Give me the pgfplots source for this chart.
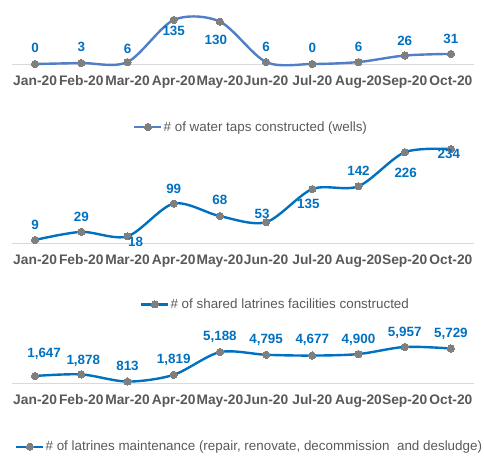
\documentclass[border=0pt]{standalone}
\usepackage{fontspec}
\setmainfont{Liberation Sans}
\usepackage{pgfplots}
\pgfplotsset{compat=1.18}
\usepackage{pgfplotstable}

\definecolor{lineA}{HTML}{4F7FC6}
\definecolor{lineB}{HTML}{0070C0}
\definecolor{labblue}{HTML}{0070C0}
\definecolor{markgray}{HTML}{7F7F7F}
\definecolor{tickgray}{HTML}{595959}
\definecolor{axisgray}{HTML}{D9D9D9}

% x = month index, lab = data label, dx/dy = label offset from the point (pt)
\pgfplotstableread{
x y lab dx dy
0 0 0 0 16
1 3 3 0 16.7
2 6 6 0 13.3
3 135 135 0 -11
4 130 130 -4 -18
5 6 6 0 15.7
6 0 0 0 16
7 6 6 0 15.7
8 26 26 0 15.3
9 31 31 0 15
}\taps

\pgfplotstableread{
x y lab dx dy
0 9 9 0 15
1 29 29 0 15
2 18 18 8 -5
3 99 99 0 15
4 68 68 0 16.7
5 53 53 -4 8.7
6 135 135 -4 -14.7
7 142 142 0 16
8 226 226 1 -20
9 234 234 -2 -5
}\latrines

\pgfplotstableread{
x y lab dx dy
0 1647 1,647 9 23.7
1 1878 1,878 2 15
2 813 813 0 16
3 1819 1,819 0 15.7
4 5188 5,188 0 16.3
5 4795 4,795 0 15.7
6 4677 4,677 0 16.7
7 4900 4,900 0 15
8 5957 5,957 0 15.3
9 5729 5,729 0 16
}\maint

\pgfplotsset{
  monthchart/.style={
    scale only axis,
    width=462pt,
    xmin=-0.5, xmax=9.5,
    axis y line=none,
    axis x line*=bottom,
    x axis line style={-, draw=axisgray, line width=0.8pt},
    xtick={0,...,9},
    xticklabels={Jan-20,Feb-20,Mar-20,Apr-20,May-20,Jun-20,Jul-20,Aug-20,Sep-20,Oct-20},
    major tick length=0pt,
    tick style={draw=none},
    xticklabel style={anchor=base, yshift=-21pt, text=tickgray,
      font=\fontsize{13.8}{16}\selectfont\bfseries},
    clip=false,
    legend style={draw=none, fill=none, inner sep=0pt, anchor=west,
      font=\fontsize{13.4}{16}\selectfont, text=tickgray,
      nodes={inner sep=1pt}},
    legend image code/.code={
      \draw[mark repeat=2, mark phase=2, #1]
        plot coordinates {(0pt,0pt) (13.5pt,0pt) (27pt,0pt)};
    },
  },
  monthline/.style={
    smooth, line width=2.4pt,
    mark=*, mark size=3.6pt,
    mark options={fill=markgray, draw=markgray, line width=0pt},
    point meta=explicit symbolic,
    visualization depends on={\thisrow{dx}\as\dx},
    visualization depends on={\thisrow{dy}\as\dy},
    nodes near coords={\pgfplotspointmeta},
    nodes near coords style={anchor=center, inner sep=0pt,
      text height=9.6pt, text depth=0pt,
      xshift=\dx pt, yshift=\dy pt,
      text=labblue, font=\fontsize{13.4}{16}\selectfont\bfseries},
  },
}

\begin{document}
\begin{tikzpicture}
\path[use as bounding box] (0,0) rectangle (484pt,456pt);

\begin{axis}[monthchart, at={(12pt,392pt)}, anchor=south west,
  height=48.9pt, ymin=0, ymax=150,
  legend style={at={(0.262,-1.288)}}]
  \addplot[monthline, color=lineA] table[x=x, y=y, meta=lab] {\taps};
  \addlegendentry{\# of water taps constructed (wells)}
\end{axis}

\begin{axis}[monthchart, at={(12pt,212.4pt)}, anchor=south west,
  height=101pt, ymin=0, ymax=250,
  legend style={at={(0.277,-0.601)}}]
  \addplot[monthline, color=lineB] table[x=x, y=y, meta=lab] {\latrines};
  \addlegendentry{\# of shared latrines facilities constructed}
\end{axis}

\begin{axis}[monthchart, at={(12pt,73pt)}, anchor=south west,
  height=39.7pt, ymin=600, ymax=6500,
  legend style={at={(0.0065,-1.605)}}]
  \addplot[monthline, color=lineB] table[x=x, y=y, meta=lab] {\maint};
  \addlegendentry{\# of latrines maintenance (repair, renovate, decommission \ and desludge)}
\end{axis}
\end{tikzpicture}
\end{document}
